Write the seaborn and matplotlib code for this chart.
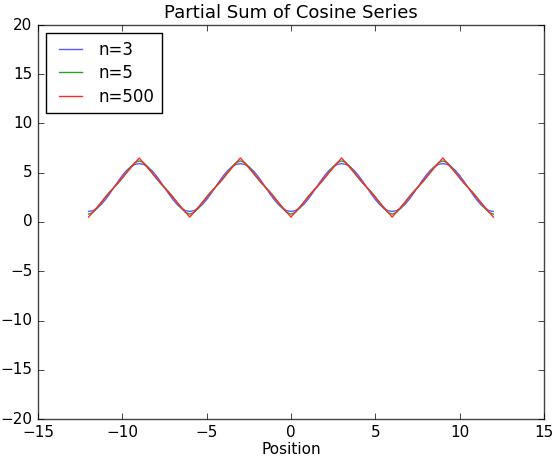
import matplotlib
matplotlib.use("Agg")
import matplotlib.pyplot as plt
import seaborn as sns
import numpy as np

# x positions (step 0.25 from -12 to 12)
x_pos = np.arange(-12, 12.0001, 0.25)

# n=3 partial sum values
n3_vals = [
    1.07, 1.15, 1.39, 1.78, 2.28, 2.87, 3.50, 4.13, 4.72, 5.22, 5.61, 5.85, 5.93,
    5.85, 5.61, 5.22, 4.72, 4.13, 3.50, 2.87, 2.28, 1.78, 1.39, 1.15, 1.07,
    1.15, 1.39, 1.78, 2.28, 2.87, 3.50, 4.13, 4.72, 5.22, 5.61, 5.85, 5.93,
    5.85, 5.61, 5.22, 4.72, 4.13, 3.50, 2.87, 2.28, 1.78, 1.39, 1.15, 1.07,
    1.15, 1.39, 1.78, 2.28, 2.87, 3.50, 4.13, 4.72, 5.22, 5.61, 5.85, 5.93,
    5.85, 5.61, 5.22, 4.72, 4.13, 3.50, 2.87, 2.28, 1.78, 1.39, 1.15, 1.07,
    1.15, 1.39, 1.78, 2.28, 2.87, 3.50, 4.13, 4.72, 5.22, 5.61, 5.85, 5.93,
    5.85, 5.61, 5.22, 4.72, 4.13, 3.50, 2.87, 2.28, 1.78, 1.39, 1.15, 1.07,
]

# n=5 partial sum values
n5_vals = [
    0.80, 0.96, 1.39, 1.97, 2.55, 3.06, 3.50, 3.94, 4.45, 5.03, 5.61, 6.04, 6.20,
    6.04, 5.61, 5.03, 4.45, 3.94, 3.50, 3.06, 2.55, 1.97, 1.39, 0.96, 0.80,
    0.96, 1.39, 1.97, 2.55, 3.06, 3.50, 3.94, 4.45, 5.03, 5.61, 6.04, 6.20,
    6.04, 5.61, 5.03, 4.45, 3.94, 3.50, 3.06, 2.55, 1.97, 1.39, 0.96, 0.80,
    0.96, 1.39, 1.97, 2.55, 3.06, 3.50, 3.94, 4.45, 5.03, 5.61, 6.04, 6.20,
    6.04, 5.61, 5.03, 4.45, 3.94, 3.50, 3.06, 2.55, 1.97, 1.39, 0.96, 0.80,
    0.96, 1.39, 1.97, 2.55, 3.06, 3.50, 3.94, 4.45, 5.03, 5.61, 6.04, 6.20,
    6.04, 5.61, 5.03, 4.45, 3.94, 3.50, 3.06, 2.55, 1.97, 1.39, 0.96, 0.80,
]

# n=500 (essentially the triangle wave) vertices
n500_x = [-12, -9, -6, -3, 0, 3, 6, 9, 12]
n500_vals = [0.5, 6.5, 0.5, 6.5, 0.5, 6.5, 0.5, 6.5, 0.5]

labels = ["n=3", "n=5", "n=500"]
colors = ["#5a5aff", "#2a9f2a", "#ff2a2a"]

plt.style.use("classic")
plt.rcParams["font.family"] = ["DejaVu Sans"]

fig = plt.figure(figsize=(5.54, 4.57), dpi=100, facecolor="white")
ax = fig.add_axes([38 / 554, 38 / 457, 506 / 554, 394 / 457])

sns.lineplot(x=x_pos, y=n3_vals, color=colors[0], label=labels[0], ax=ax,
             estimator=None, linewidth=1.0)
sns.lineplot(x=x_pos, y=n5_vals, color=colors[1], label=labels[1], ax=ax,
             estimator=None, linewidth=1.0)
sns.lineplot(x=n500_x, y=n500_vals, color=colors[2], label=labels[2], ax=ax,
             estimator=None, linewidth=1.0)

ax.set_xlim(-15, 15)
ax.set_ylim(-20, 20)
ax.set_xticks([-15, -10, -5, 0, 5, 10, 15])
ax.set_yticks([-20, -15, -10, -5, 0, 5, 10, 15, 20])
ax.tick_params(labelsize=11, pad=4)
ax.set_title("Partial Sum of Cosine Series", fontsize=13)
ax.set_xlabel("Position", fontsize=11, labelpad=2)
ax.set_ylabel("")
leg = ax.legend(loc="upper left", fontsize=12, frameon=True, fancybox=False,
                handlelength=2.0, handletextpad=0.7, labelspacing=0.33,
                borderpad=0.45, borderaxespad=0.5, numpoints=2)
leg.get_frame().set_edgecolor("black")
for s in ax.spines.values():
    s.set_color("#444444")

fig.savefig("out.png", dpi=100, facecolor="white")
